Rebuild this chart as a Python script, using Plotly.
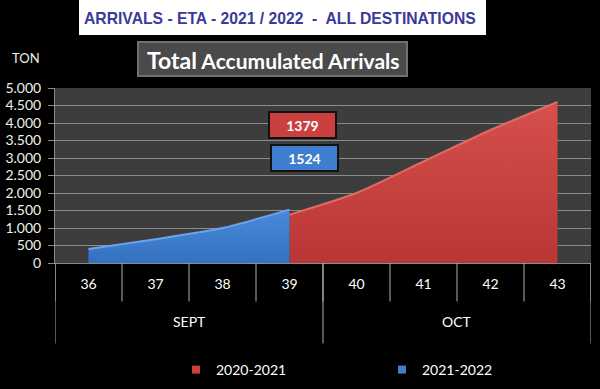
import plotly.graph_objects as go

weeks = ["36", "37", "38", "39", "40", "41", "42", "43"]
months = ["SEPT", "SEPT", "SEPT", "SEPT", "OCT", "OCT", "OCT", "OCT"]
series_2020_2021 = [None, None, None, 1379, 2000, 2900, 3800, 4600]
series_2021_2022 = [400, 680, 1000, 1524, None, None, None, None]
label_2020_2021 = 1379
label_2021_2022 = 1524
y_ticks = [0, 500, 1000, 1500, 2000, 2500, 3000, 3500, 4000, 4500, 5000]

RED = "#c9403e"
BLUE = "#3f7ecf"
FONT = "Lato"

idx = list(range(len(weeks)))

fig = go.Figure()

rx = [i for i, v in zip(idx, series_2020_2021) if v is not None]
ry = [v for v in series_2020_2021 if v is not None]
fig.add_trace(go.Scatter(
    x=rx, y=ry, mode="lines", fill="tozeroy",
    line=dict(color="#e06a66", width=2, shape="spline", smoothing=0.6),
    fillgradient=dict(type="vertical", colorscale=[[0, "#b83634"], [1, "#d6504c"]]),
    showlegend=False, hoverinfo="skip"))

bx = [i for i, v in zip(idx, series_2021_2022) if v is not None]
by = [v for v in series_2021_2022 if v is not None]
fig.add_trace(go.Scatter(
    x=bx, y=by, mode="lines", fill="tozeroy",
    line=dict(color="#6aa4ec", width=2, shape="spline", smoothing=0.6),
    fillgradient=dict(type="vertical", colorscale=[[0, "#3470c0"], [1, "#4a8ada"]]),
    showlegend=False, hoverinfo="skip"))

fig.add_trace(go.Scatter(x=[None], y=[None], mode="markers", name="2020-2021",
                         marker=dict(symbol="square", size=8, color=RED)))
fig.add_trace(go.Scatter(x=[None], y=[None], mode="markers", name="2021-2022",
                         marker=dict(symbol="square", size=8, color=BLUE)))

shapes = []
for i in range(len(weeks) + 1):
    shapes.append(dict(type="line", xref="x", yref="paper", x0=i - 0.5, x1=i - 0.5,
                       y0=0, y1=-0.22, line=dict(color="#b0b0b0", width=1)))
bounds = [0]
for i in range(1, len(months)):
    if months[i] != months[i - 1]:
        bounds.append(i)
bounds.append(len(months))
for b in bounds:
    shapes.append(dict(type="line", xref="x", yref="paper", x0=b - 0.5, x1=b - 0.5,
                       y0=0, y1=-0.46, line=dict(color="#b0b0b0", width=1)))

shapes.append(dict(type="rect", xref="paper", yref="paper", x0=(79 - 55) / 536, x1=(486 - 55) / 536,
                   y0=(263 - 35) / 175, y1=(263 + 2) / 175, fillcolor="white", line=dict(width=0), layer="above"))
shapes.append(dict(type="rect", xref="paper", yref="paper", x0=(138 - 55) / 536, x1=(407 - 55) / 536,
                   y0=(263 - 76) / 175, y1=(263 - 42) / 175, fillcolor="#4a4a4a",
                   line=dict(color="#707070", width=2), layer="above"))

annotations = []
annotations.append(dict(xref="paper", yref="paper", x=(280 - 55) / 536, y=(263 - 18) / 175,
                        text="<b>ARRIVALS - ETA - 2021 / 2022  -  ALL DESTINATIONS</b>", showarrow=False,
                        font=dict(family="Liberation Sans", size=15.7, color="#3a3a9a"),
                        xanchor="center", yanchor="middle"))
annotations.append(dict(xref="paper", yref="paper", x=(273 - 55) / 536, y=(263 - 60) / 175,
                        text="<b><span style='font-size:23px'>Total</span> Accumulated Arrivals</b>",
                        showarrow=False, font=dict(family=FONT, size=21, color="white"),
                        xanchor="center", yanchor="middle"))
annotations.append(dict(xref="paper", yref="paper", x=(26 - 55) / 536, y=(263 - 58) / 175,
                        text="TON", showarrow=False, font=dict(family=FONT, size=13, color="#f0f0e8"),
                        xanchor="center", yanchor="middle"))
annotations.append(dict(x=3.19, y=3943, text="<b>%d</b>" % label_2020_2021, showarrow=False,
                        font=dict(family=FONT, size=14, color="white"), bgcolor=RED,
                        bordercolor="#111111", borderwidth=2, width=63, height=22))
annotations.append(dict(x=3.23, y=3000, text="<b>%d</b>" % label_2021_2022, showarrow=False,
                        font=dict(family=FONT, size=14, color="white"), bgcolor=BLUE,
                        bordercolor="#111111", borderwidth=2, width=63, height=22))
seen = []
for m in months:
    if m not in seen:
        seen.append(m)
for m in seen:
    pos = [i for i, mm in enumerate(months) if mm == m]
    annotations.append(dict(x=sum(pos) / len(pos), xref="x", yref="paper", y=(263 - 321) / 175,
                            text=m, showarrow=False, font=dict(family=FONT, size=14, color="white"),
                            yanchor="middle"))

fig.update_layout(
    width=600, height=389,
    margin=dict(l=55, r=9, t=88, b=126),
    paper_bgcolor="black", plot_bgcolor="#3d3d3d",
    separators=",.",
    shapes=shapes, annotations=annotations,
    legend=dict(orientation="h", xref="container", yref="container", x=176 / 600, xanchor="left",
                y=1 - 370 / 389, yanchor="middle",
                font=dict(family=FONT, size=14, color="white"), entrywidth=161, entrywidthmode="pixels",
                bgcolor="rgba(0,0,0,0)"),
    xaxis=dict(range=[-0.5, 7.5], tickvals=idx, ticktext=weeks, showgrid=False, zeroline=False,
               showline=True, linecolor="#8a8a8a", ticks="", ticklabelstandoff=8, automargin=False,
               tickfont=dict(family=FONT, size=14, color="white"), fixedrange=True),
    yaxis=dict(range=[0, 5000], tickvals=y_ticks, tickformat=",d", showgrid=True, gridcolor="#8c8c8c",
               gridwidth=1, zeroline=False, showline=True, linecolor="#8a8a8a", ticks="outside",
               ticklen=6, tickcolor="#8a8a8a", ticklabelstandoff=4, automargin=False,
               tickfont=dict(family=FONT, size=14, color="#f0f0e8")),
)

post = ("var gd=document.getElementById('{plot_id}');"
        "document.body.style.background='black';"
        "gd.style.position='absolute';gd.style.left='0px';gd.style.top='0px';")
fig.write_html("out.html", post_script=post, config={"displayModeBar": False, "responsive": False})
